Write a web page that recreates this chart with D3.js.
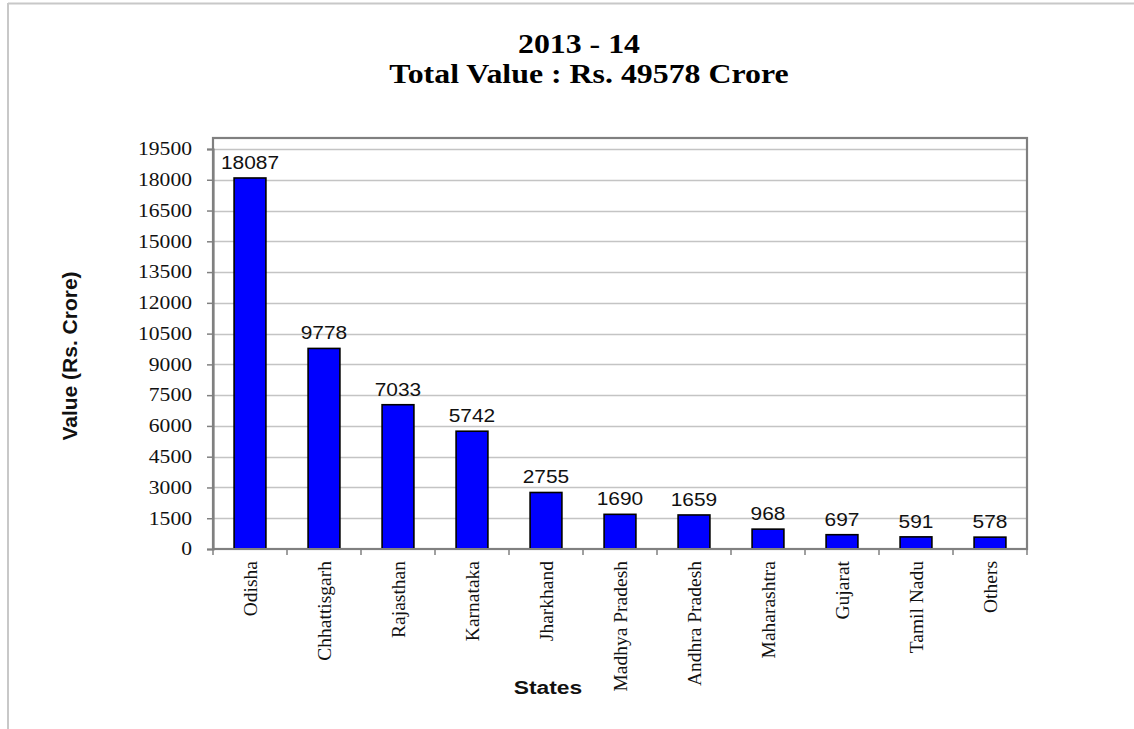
<!DOCTYPE html>
<html>
<head>
<meta charset="utf-8">
<script src="https://cdn.jsdelivr.net/npm/d3@7"></script>
<style>
  html, body { margin: 0; padding: 0; background: #fff; }
  svg { display: block; }
</style>
</head>
<body>
<script>
// Value of minerals by state, 2013-14 (Rs. Crore)
const states = ["Odisha", "Chhattisgarh", "Rajasthan", "Karnataka", "Jharkhand",
  "Madhya Pradesh", "Andhra Pradesh", "Maharashtra", "Gujarat", "Tamil Nadu", "Others"];
const values = [18087, 9778, 7033, 5742, 2755, 1690, 1659, 968, 697, 591, 578];
const yTicks = [0, 1500, 3000, 4500, 6000, 7500, 9000, 10500, 12000, 13500, 15000, 16500, 18000, 19500];
const titleLines = ["2013 - 14", "Total Value : Rs. 49578 Crore"];

const W = 1134, H = 729;
const plot = { left: 213, right: 1027, top: 138, bottom: 549 };
const SERIF = "'Liberation Serif', 'Times New Roman', serif";
const SANS = "'Liberation Sans', Arial, sans-serif";
const stretch = 1.18; // text in this chart is drawn slightly wide

const svg = d3.select("body").append("svg").attr("width", W).attr("height", H);

// page frame (top and left edges)
svg.append("line").attr("x1", 8).attr("x2", W).attr("y1", 3.5).attr("y2", 3.5)
  .attr("stroke", "#c8c8c8").attr("stroke-width", 2);
svg.append("line").attr("x1", 8).attr("x2", 8).attr("y1", 3).attr("y2", H)
  .attr("stroke", "#c8c8c8").attr("stroke-width", 2);

// scales: 19500 sits near the top, frame top is a bit above the last tick
const y = d3.scaleLinear().domain([0, 19500]).range([plot.bottom, 149]);
const x = d3.scaleBand().domain(states).range([plot.left, plot.right]).paddingInner(0.57).paddingOuter(0.285);
const xOuter = d3.scaleBand().domain(states).range([plot.left, plot.right]);

// gridlines
svg.append("g").selectAll("line").data(yTicks.filter(d => d > 0)).join("line")
  .attr("x1", plot.left).attr("x2", plot.right)
  .attr("y1", d => Math.round(y(d)) + 0.5).attr("y2", d => Math.round(y(d)) + 0.5)
  .attr("stroke", "#c4c4c4").attr("stroke-width", 1.3);

// plot border
svg.append("rect")
  .attr("x", plot.left).attr("y", plot.top)
  .attr("width", plot.right - plot.left).attr("height", plot.bottom - plot.top)
  .attr("fill", "none").attr("stroke", "#808080").attr("stroke-width", 2.2);

// bars
svg.append("g").selectAll("rect").data(values).join("rect")
  .attr("x", (d, i) => x(states[i]))
  .attr("width", x.bandwidth())
  .attr("y", d => y(d))
  .attr("height", d => y(0) - y(d))
  .attr("fill", "#0000ff")
  .attr("stroke", "#000").attr("stroke-width", 1.6);

// y axis
const yAxis = d3.axisLeft(y).tickValues(yTicks).tickSize(6).tickPadding(8).tickFormat(d3.format("d"));
const gy = svg.append("g").attr("transform", `translate(${plot.left},0)`).call(yAxis);
gy.select(".domain").attr("stroke", "#808080").attr("stroke-width", 2.2);
gy.selectAll(".tick line").attr("stroke", "#808080").attr("stroke-width", 1.5);
gy.selectAll(".tick text")
  .attr("x", -21 / 1.2)
  .attr("transform", "scale(1.2,1)")
  .attr("font-family", SERIF)
  .attr("font-size", 18).attr("fill", "#111");

// x axis baseline with ticks at category boundaries
svg.append("line").attr("x1", plot.left).attr("x2", plot.right)
  .attr("y1", plot.bottom).attr("y2", plot.bottom)
  .attr("stroke", "#808080").attr("stroke-width", 2.2);
const bounds = states.map(s => xOuter(s)).concat([plot.right]);
svg.append("g").selectAll("line").data(bounds).join("line")
  .attr("x1", d => d).attr("x2", d => d)
  .attr("y1", plot.bottom).attr("y2", plot.bottom + 6)
  .attr("stroke", "#808080").attr("stroke-width", 1.5);

// category labels, rotated
svg.append("g").selectAll("text").data(states).join("text")
  .attr("transform", d => `translate(${x(d) + x.bandwidth() / 2 + 7},${plot.bottom + 12}) rotate(-90)`)
  .attr("text-anchor", "end")
  .attr("font-family", SERIF)
  .attr("font-size", 19.5).attr("fill", "#111")
  .text(d => d);

// value labels above bars
svg.append("g").selectAll("text").data(values).join("text")
  .attr("transform", (d, i) => `translate(${x(states[i]) + x.bandwidth() / 2},${y(d) - 9}) scale(1.1,1)`)
  .attr("text-anchor", "middle")
  .attr("font-family", SANS)
  .attr("font-size", 19).attr("fill", "#111")
  .text(d => d);

// axis titles
svg.append("text")
  .attr("transform", `translate(548,694) scale(1.2,1)`)
  .attr("text-anchor", "middle")
  .attr("font-family", SANS)
  .attr("font-weight", "bold").attr("font-size", 19).attr("fill", "#111")
  .text("States");
svg.append("text")
  .attr("transform", "translate(77,356) rotate(-90)")
  .attr("text-anchor", "middle")
  .attr("font-family", SANS)
  .attr("font-weight", "bold").attr("font-size", 21).attr("fill", "#111")
  .text("Value (Rs. Crore)");

// chart title
svg.append("g").selectAll("text").data(titleLines).join("text")
  .attr("transform", (d, i) => `translate(${i === 0 ? 579 : 589},${53 + i * 30}) scale(${stretch},1)`)
  .attr("text-anchor", "middle")
  .attr("font-family", SERIF)
  .attr("font-weight", "bold").attr("font-size", 27).attr("fill", "#000")
  .text(d => d);
</script>
</body>
</html>
